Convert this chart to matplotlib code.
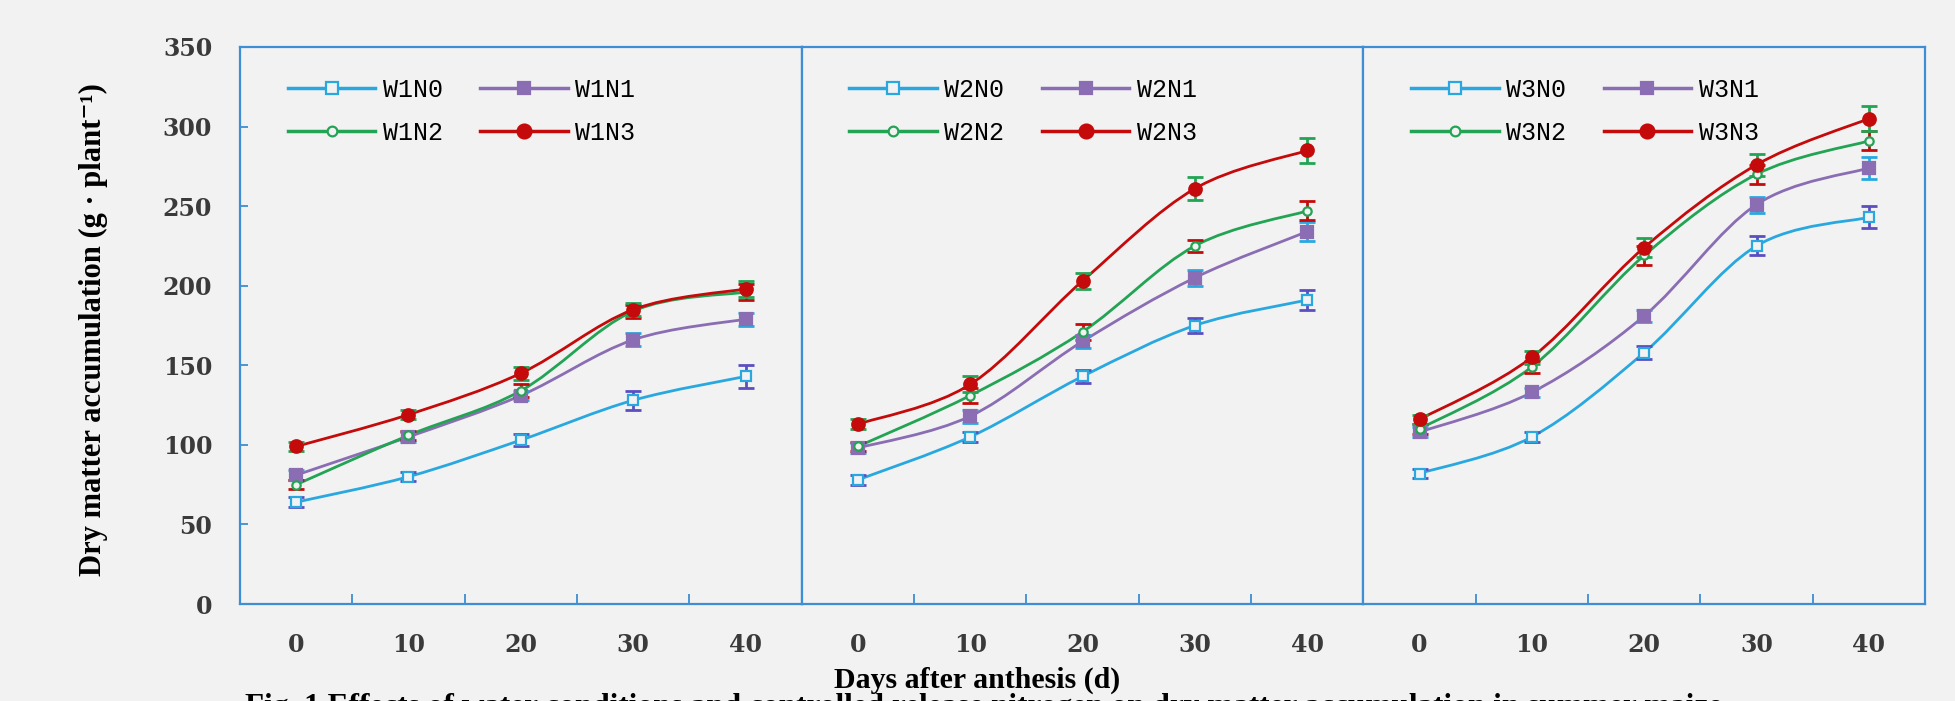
"""
Dry matter accumulation after anthesis under three water regimes (W1-W3)
and four nitrogen levels (N0-N3). Three panels sharing one frame.
"""

import matplotlib
matplotlib.use("Agg")
import matplotlib.pyplot as plt
import numpy as np
from matplotlib.lines import Line2D
from matplotlib.patches import PathPatch
from matplotlib.path import Path

DAYS = ["0", "10", "20", "30", "40"]
WATER = ["W1", "W2", "W3"]
NITROGEN = ["N0", "N1", "N2", "N3"]

# dry matter (g per plant), one list per treatment
W1N0 = [64, 80, 103, 128, 143]
W1N1 = [81, 105, 131, 166, 179]
W1N2 = [75, 106, 134, 184, 196]
W1N3 = [99, 119, 145, 185, 198]

W2N0 = [78, 105, 143, 175, 191]
W2N1 = [98, 118, 165, 205, 234]
W2N2 = [99, 131, 171, 225, 247]
W2N3 = [113, 138, 203, 261, 285]

W3N0 = [82, 105, 158, 225, 243]
W3N1 = [108, 133, 181, 251, 274]
W3N2 = [110, 149, 219, 270, 291]
W3N3 = [116, 155, 224, 276, 305]

# standard errors
W1N0_SE = [3, 3, 4, 6, 7]
W1N1_SE = [3, 3, 3, 4, 4]
W1N2_SE = [3, 3, 4, 4, 5]
W1N3_SE = [3, 3, 4, 4, 5]

W2N0_SE = [3, 3, 4, 5, 6]
W2N1_SE = [3, 4, 4, 5, 6]
W2N2_SE = [3, 5, 5, 4, 6]
W2N3_SE = [3, 5, 5, 7, 8]

W3N0_SE = [3, 3, 4, 6, 7]
W3N1_SE = [3, 3, 4, 5, 7]
W3N2_SE = [3, 4, 6, 6, 6]
W3N3_SE = [3, 4, 6, 7, 8]

DATA = {
    "W1": [W1N0, W1N1, W1N2, W1N3],
    "W2": [W2N0, W2N1, W2N2, W2N3],
    "W3": [W3N0, W3N1, W3N2, W3N3],
}
ERRS = {
    "W1": [W1N0_SE, W1N1_SE, W1N2_SE, W1N3_SE],
    "W2": [W2N0_SE, W2N1_SE, W2N2_SE, W2N3_SE],
    "W3": [W3N0_SE, W3N1_SE, W3N2_SE, W3N3_SE],
}

LINE_COLOR = ["#29A8E0", "#8A6DB3", "#22A454", "#C40A0A"]
ERR_COLOR = ["#5B4FC0", "#29A8E0", "#C40A0A", "#22A454"]
MARKER = ["s", "s", "o", "o"]
FACE = ["#F2F2F2", "#8A6DB3", "#F2F2F2", "#C40A0A"]
MSIZE = [7, 8, 6, 9]

FRAME = "#3D8ED4"
BG = "#F2F2F2"
SERIF = ["Liberation Serif", "DejaVu Serif"]
TICKFONT = ["DejaVu Serif"]


def smooth_path(x, y):
    """Bezier path through the points (Excel-style smoothed line)."""
    pts = np.column_stack([x, y]).astype(float)
    n = len(pts)
    verts = [pts[0]]
    codes = [Path.MOVETO]
    for i in range(n - 1):
        p0 = pts[max(i - 1, 0)]
        p1 = pts[i]
        p2 = pts[i + 1]
        p3 = pts[min(i + 2, n - 1)]
        c1 = p1 + (p2 - p0) / 6.0
        c2 = p2 - (p3 - p1) / 6.0
        verts += [c1, c2, p2]
        codes += [Path.CURVE4] * 3
    return Path(verts, codes)


fig = plt.figure(figsize=(19.56, 7.01), dpi=100, facecolor=BG)

left, right = 240 / 1956, 1925 / 1956
bottom, top = 1 - 604 / 701, 1 - 47 / 701
pw = (right - left) / 3

x = np.arange(len(DAYS))
for k, w in enumerate(WATER):
    ax = fig.add_axes([left + k * pw, bottom, pw, top - bottom], facecolor=BG)
    for j in range(4):
        y = np.array(DATA[w][j])
        e = np.array(ERRS[w][j])
        ax.add_patch(PathPatch(smooth_path(x, y), facecolor="none",
                               edgecolor=LINE_COLOR[j], linewidth=2.0, zorder=3))
        ax.errorbar(x, y, yerr=e, fmt="none", ecolor=ERR_COLOR[j],
                    elinewidth=2.0, capsize=6, capthick=2.0, zorder=4)
        ax.plot(x, y, linestyle="none", marker=MARKER[j], markersize=MSIZE[j],
                markerfacecolor=FACE[j], markeredgecolor=LINE_COLOR[j],
                markeredgewidth=1.6, zorder=5)

    ax.set_xlim(-0.5, 4.5)
    ax.set_ylim(0, 350)
    ax.set_xticks(x)
    ax.set_xticklabels(DAYS, family=TICKFONT, fontsize=17, fontweight="bold",
                       color="#3a3a3a")
    ax.tick_params(axis="x", which="major", length=0, pad=21)
    ax.set_xticks(x[:-1] + 0.5, minor=True)
    ax.tick_params(axis="x", which="minor", direction="in", length=7,
                   width=1.3, color=FRAME)
    if k == 0:
        ax.set_yticks(np.arange(0, 351, 50))
        ax.set_yticklabels([str(v) for v in range(0, 351, 50)],
                           family=TICKFONT, fontsize=17, fontweight="bold",
                           color="#3a3a3a")
        ax.tick_params(axis="y", direction="in", length=6, width=1.3,
                       color=FRAME, pad=20)
    else:
        ax.set_yticks([])
    for s in ax.spines.values():
        s.set_color(FRAME)
        s.set_linewidth(1.6)

    handles = [
        Line2D([], [], color=LINE_COLOR[j], linewidth=2.5, marker=MARKER[j],
               markersize=MSIZE[j] + 1, markerfacecolor=FACE[j],
               markeredgecolor=LINE_COLOR[j], markeredgewidth=1.6,
               label=f"{w}{NITROGEN[j]}")
        for j in range(4)
    ]
    order = [0, 2, 1, 3]
    ax.legend([handles[i] for i in order], [handles[i].get_label() for i in order],
              ncol=2, loc="upper left", bbox_to_anchor=(0.045, 0.985),
              frameon=False, handlelength=3.5, handletextpad=0.3,
              columnspacing=1.5, labelspacing=0.75,
              prop={"family": "Liberation Mono", "size": 18})

fig.text(0.048, 0.53, "Dry matter accumulation (g \u00b7 plant\u207b\u00b9)",
         rotation=90, ha="center", va="center", family=SERIF,
         fontweight="bold", fontsize=22)
fig.text(0.4995, 0.03, "Days after anthesis (d)", ha="center", va="center",
         family=SERIF, fontweight="bold", fontsize=21.5)
fig.text(0.503, 0.011,
         "Fig. 1 Effects of water conditions and controlled release nitrogen "
         "on dry matter accumulation in summer maize",
         ha="center", va="top", family=SERIF, fontweight="bold", fontsize=22.5)

fig.savefig("out.png", dpi=100, facecolor=BG)
